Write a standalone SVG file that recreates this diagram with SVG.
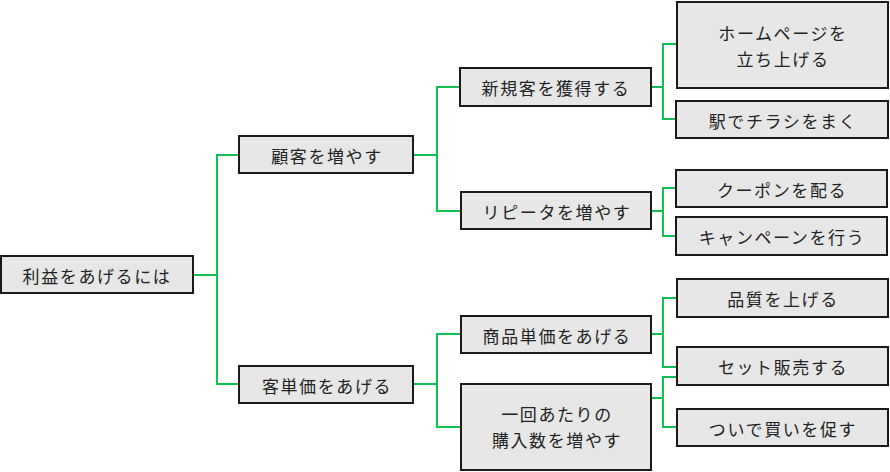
<svg xmlns="http://www.w3.org/2000/svg" width="890" height="472" viewBox="0 0 890 472">
<style>
.box{fill:#e7e7e7;stroke:#1a1a1a;stroke-width:2}
.t{font-family:"Noto Sans CJK JP","Noto Sans",sans-serif;font-size:17px;fill:#222;text-anchor:middle;dominant-baseline:central;letter-spacing:1.6px}
.c{fill:none;stroke:#10c050;stroke-width:2}
</style>
<rect width="890" height="472" fill="#fff"/>
<g id="connectors">
<path class="c" d="M193,275H217M239,155H217V384H239"/>
<path class="c" d="M413,155H437M460,87H437V211H461"/>
<path class="c" d="M651,87H663M677,44H663V119H676"/>
<path class="c" d="M651,211H663M676,188H663V236H676"/>
<path class="c" d="M413,384H437M461,334H437V427H461"/>
<path class="c" d="M651,334H663M677,298H663V367H677"/>
<path class="c" d="M651,398H663M677,377H663V427H677"/>
</g>
<g id="root"><rect class="box" x="1" y="256" width="192" height="37"/><text class="t" x="97" y="275">利益をあげるには</text></g>
<g id="n1"><rect class="box" x="239" y="136" width="174" height="37"/><text class="t" x="327" y="155">顧客を増やす</text></g>
<g id="n2"><rect class="box" x="239" y="366" width="174" height="37"/><text class="t" x="327" y="385">客単価をあげる</text></g>
<g id="n11"><rect class="box" x="460" y="68" width="191" height="38"/><text class="t" x="556" y="87">新規客を獲得する</text></g>
<g id="n12"><rect class="box" x="461" y="192" width="190" height="37"/><text class="t" x="557" y="211">リピータを増やす</text></g>
<g id="n21"><rect class="box" x="461" y="316" width="190" height="37"/><text class="t" x="557" y="335">商品単価をあげる</text></g>
<g id="n22"><rect class="box" x="461" y="384" width="190" height="86"/><text class="t" x="557" y="413">一回あたりの</text><text class="t" x="557" y="439">購入数を増やす</text></g>
<g id="n111"><rect class="box" x="677" y="2" width="211" height="86"/><text class="t" x="783" y="32">ホームページを</text><text class="t" x="783" y="58">立ち上げる</text></g>
<g id="n112"><rect class="box" x="676" y="101" width="212" height="37"/><text class="t" x="783" y="120">駅でチラシをまく</text></g>
<g id="n121"><rect class="box" x="676" y="170" width="211" height="37"/><text class="t" x="782" y="189">クーポンを配る</text></g>
<g id="n122"><rect class="box" x="676" y="217" width="211" height="38"/><text class="t" x="782" y="236">キャンペーンを行う</text></g>
<g id="n211"><rect class="box" x="677" y="279" width="211" height="38"/><text class="t" x="783" y="298">品質を上げる</text></g>
<g id="n212"><rect class="box" x="677" y="347" width="211" height="38"/><text class="t" x="783" y="366">セット販売する</text></g>
<g id="n221"><rect class="box" x="677" y="409" width="211" height="37"/><text class="t" x="783" y="428">ついで買いを促す</text></g>
</svg>
